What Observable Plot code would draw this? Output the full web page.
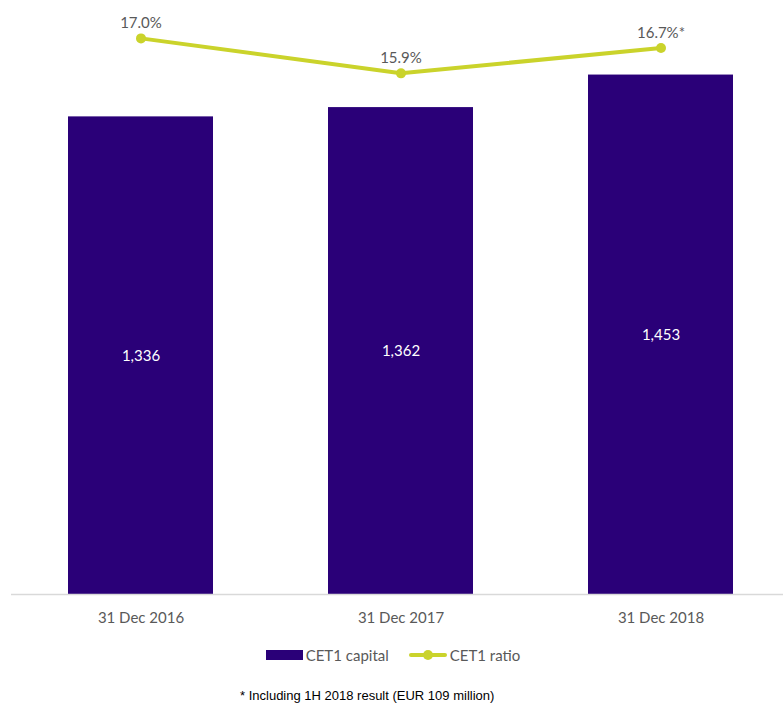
<!DOCTYPE html>
<html>
<head>
<meta charset="utf-8">
<script src="https://cdn.jsdelivr.net/npm/d3@7"></script>
<script src="https://cdn.jsdelivr.net/npm/@observablehq/plot@0.6"></script>
<style>
  body { margin: 0; background: #fff; font-family: Lato, "Open Sans", sans-serif; }
  #chart { width: 783px; }
  .legend { display: flex; justify-content: center; align-items: center; height: 22px; margin-top: 9px; font-size: 15px; color: #595959; margin-left: 3px; }
  .legend .item { display: flex; align-items: center; margin: 0 1px; }
  .sw-rect { width: 37px; height: 10px; background: #2a0078; margin-right: 3px; }
  .sw-line { position: relative; width: 38px; height: 10px; margin-left: 18px; margin-right: 3px; }
  .sw-line .ln { position: absolute; left: 0; right: 0; top: 3px; height: 4px; background: #cad32b; border-radius: 2px; }
  .sw-line .dt { position: absolute; left: 14px; top: 0; width: 10px; height: 10px; border-radius: 5px; background: #cad32b; }
  .foot { font-family: "Liberation Sans", Arial, sans-serif; font-size: 13px; line-height: 15px; color: #000; margin-top: 22px; padding-left: 240px; }
</style>
</head>
<body>
<div id="chart"></div>
<script>
const categories = ["31 Dec 2016", "31 Dec 2017", "31 Dec 2018"];
const capital = [1336, 1362, 1453];
const ratio = [17.0, 15.9, 16.7];
const ratioLabels = ["17.0%", "15.9%", "16.7%*"];

const data = categories.map((c, i) => ({ cat: c, capital: capital[i], ratio: ratio[i], ratioLabel: ratioLabels[i] }));

// secondary axis for the ratio, mapped into the primary y units
const ratioToY = d3.scaleLinear().domain([-0.5, 17.5]).range([0, 1600]);

const barColor = "#2a0078";
const lineColor = "#cad32b";

const plot = Plot.plot({
  width: 783,
  height: 635,
  marginTop: 22,
  marginBottom: 41,
  marginLeft: 11,
  marginRight: 0,
  style: { fontFamily: "Lato, 'Open Sans', sans-serif", background: "#fff" },
  x: { type: "band", domain: categories, range: [11, 791], paddingInner: 0.442, paddingOuter: 0.221, label: null },
  y: { domain: [0, 1600], axis: null },
  marks: [
    Plot.barY(data, { x: "cat", y: "capital", fill: barColor }),
    Plot.ruleY([0], { stroke: "#d9d9d9", strokeWidth: 1.5 }),
    Plot.text(data, { x: "cat", y: d => d.capital / 2, text: d => d3.format(",")(d.capital), fill: "#fff", fontSize: 15 }),
    Plot.line(data, { x: "cat", y: d => ratioToY(d.ratio), stroke: lineColor, strokeWidth: 4 }),
    Plot.dot(data, { x: "cat", y: d => ratioToY(d.ratio), r: 5, fill: lineColor }),
    Plot.text(data, { x: "cat", y: d => ratioToY(d.ratio), text: "ratioLabel", dy: -15, fill: "#595959", fontSize: 15 }),
    Plot.axisX({ tickSize: 0, tickPadding: 18, fontSize: 15, color: "#595959" })
  ]
});
document.getElementById("chart").appendChild(plot);
</script>
<div class="legend">
  <div class="item"><div class="sw-rect"></div><span>CET1 capital</span></div>
  <div class="item"><div class="sw-line"><div class="ln"></div><div class="dt"></div></div><span>CET1 ratio</span></div>
</div>
<div class="foot">* Including 1H 2018 result (EUR 109 million)</div>
</body>
</html>
